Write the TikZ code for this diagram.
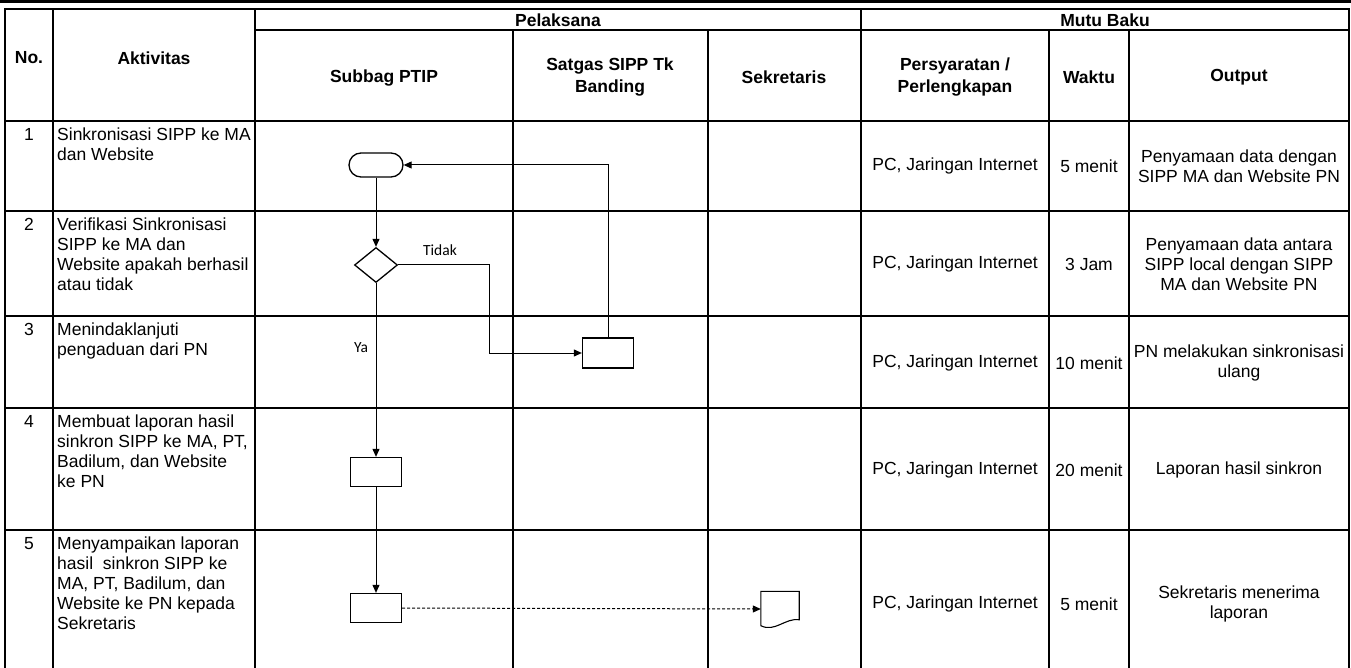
\documentclass[tikz,border=0pt]{standalone}
\usepackage{fontspec}
\setmainfont{Liberation Sans}
\newfontfamily\lblfont{Carlito}
\usetikzlibrary{arrows.meta,shapes.geometric,calc}
\begin{document}
\begin{tikzpicture}[x=1pt,y=-1pt,
  gridline/.style={line width=2.2pt, line cap=rect},
  hdr/.style={font=\fontsize{17.5pt}{22pt}\selectfont\bfseries, align=center, inner sep=0pt},
  cell/.style={font=\fontsize{17.5pt}{20pt}\selectfont, align=center, inner sep=0pt},
  lcell/.style={font=\fontsize{17.5pt}{20pt}\selectfont, align=left, inner sep=0pt, anchor=north west},
  ncell/.style={font=\fontsize{17.5pt}{20pt}\selectfont, inner sep=0pt, anchor=north},
  shapebox/.style={draw, line width=1.3pt, inner sep=0pt, minimum width=51pt, minimum height=29pt},
  flow/.style={line width=1pt, -{Triangle[length=8pt,width=7pt]}},
  lbl/.style={font=\lblfont\fontsize{15.5pt}{18pt}\selectfont, inner sep=0pt}
]
\useasboundingbox (0,0) rectangle (1351,668);
\clip (0,0) rectangle (1351,668);
% top border of previous table
\draw[line width=3pt] (0,1.5) -- (1351,1.5);
% table grid
\draw[gridline] (5,9) -- (1349,9);
\draw[gridline] (255,30) -- (1349,30);
\foreach \yy in {121,211,316,408,530} {\draw[gridline] (5,\yy) -- (1349,\yy);}
\foreach \xx in {5,53,255,861,1349} {\draw[gridline] (\xx,9) -- (\xx,690);}
\foreach \xx in {513,708,1049,1129} {\draw[gridline] (\xx,30) -- (\xx,690);}
% headers
\node[hdr] (hpel) at (558,20) {Pelaksana};
\node[hdr] (hmutu) at (1105,20) {Mutu Baku};
\node[hdr] (hno) at (29,58) {No.};
\node[hdr] (hakt) at (154,58) {Aktivitas};
\node[hdr] (hsub) at (384,78) {Subbag PTIP};
\node[hdr] (hsat) at (610,77) {Satgas SIPP Tk\\Banding};
\node[hdr] (hsek) at (784,77) {Sekretaris};
\node[hdr] (hper) at (955,77) {Persyaratan /\\Perlengkapan};
\node[hdr] (hwak) at (1089,77) {Waktu};
\node[hdr] (hout) at (1239,77) {Output};
% row numbers
\node[ncell] (n1) at (29,128) {1};
\node[ncell] (n2) at (29,218) {2};
\node[ncell] (n3) at (29,323) {3};
\node[ncell] (n4) at (29,415) {4};
\node[ncell] (n5) at (29,537) {5};
% activities
\node[lcell] (a1) at (57,128) {Sinkronisasi SIPP ke MA\\dan Website};
\node[lcell] (a2) at (57,218) {Verifikasi Sinkronisasi\\SIPP ke MA dan\\Website apakah berhasil\\atau tidak};
\node[lcell] (a3) at (57,323) {Menindaklanjuti\\pengaduan dari PN};
\node[lcell] (a4) at (57,415) {Membuat laporan hasil\\sinkron SIPP ke MA, PT,\\Badilum, dan Website\\ke PN};
\node[lcell] (a5) at (57,537) {Menyampaikan laporan\\hasil\ \ sinkron SIPP ke\\MA, PT, Badilum, dan\\Website ke PN kepada\\Sekretaris};
% persyaratan
\node[cell] (p1) at (955,166) {PC, Jaringan Internet};
\node[cell] (p2) at (955,264) {PC, Jaringan Internet};
\node[cell] (p3) at (955,363) {PC, Jaringan Internet};
\node[cell] (p4) at (955,470) {PC, Jaringan Internet};
\node[cell] (p5) at (955,604) {PC, Jaringan Internet};
% waktu
\node[cell] (w1) at (1089,166) {5 menit};
\node[cell] (w2) at (1089,264) {3 Jam};
\node[cell] (w3) at (1089,363) {10 menit};
\node[cell] (w4) at (1089,470) {20 menit};
\node[cell] (w5) at (1089,604) {5 menit};
% output
\node[cell] (o1) at (1239,166) {Penyamaan data dengan\\SIPP MA dan Website PN};
\node[cell] (o2) at (1239,264) {Penyamaan data antara\\SIPP local dengan SIPP\\MA dan Website PN};
\node[cell] (o3) at (1239,363) {PN melakukan sinkronisasi\\ulang};
\node[cell] (o4) at (1239,470) {Laporan hasil sinkron};
\node[cell] (o5) at (1239,604) {Sekretaris menerima\\laporan};
% flowchart
\node[shapebox, rounded corners=12pt, minimum width=54pt, minimum height=24pt] (term) at (376,165) {};
\node[draw, diamond, line width=1.3pt, inner sep=0pt, minimum width=43pt, minimum height=35pt] (dec) at (376,265) {};
\node[shapebox, minimum height=30pt] (r3) at (608,353) {};
\node[shapebox] (r4) at (376,472) {};
\node[shapebox] (r5) at (376,608) {};
\node[inner sep=0pt, minimum width=38pt, minimum height=35pt] (doc) at (780,609) {};
\draw[line width=1.1pt] (doc.north west) -- (doc.north east) -- ($(doc.south east)+(0,-7)$)
  .. controls ($(doc.south east)+(-14,-9)$) and ($(doc.south west)+(14,6)$) .. ($(doc.south west)+(0,-1)$) -- cycle;
\coordinate (bend1) at (489,265);
\draw[flow] (term.south) -- (dec.north);
\draw[flow] (dec.east) -- (bend1) |- (r3.west);
\draw[flow] (r3.north) |- (term.east);
\draw[flow] (dec.south) -- (r4.north);
\draw[flow] (r4.south) -- (r5.north);
\draw[flow, dash pattern=on 3pt off 2pt] (r5.east) -- (doc.west);
\node[lbl] (ltidak) at (440,250) {Tidak};
\node[lbl] (lya) at (361,348) {Ya};
\end{tikzpicture}
\end{document}
